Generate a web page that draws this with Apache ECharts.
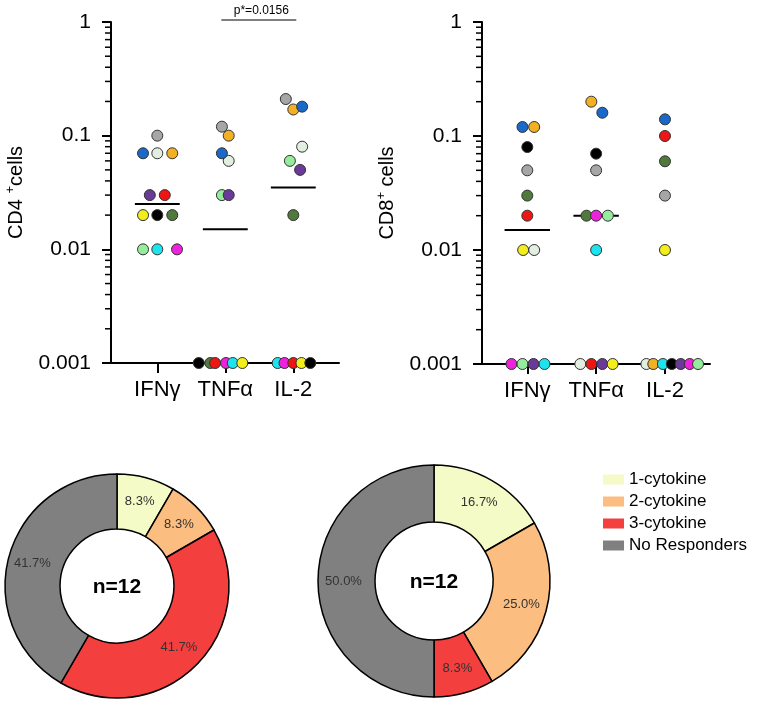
<!DOCTYPE html>
<html><head><meta charset="utf-8">
<script src="https://cdn.jsdelivr.net/npm/echarts@6/dist/echarts.min.js"></script>
<style>html,body{margin:0;padding:0;background:#fff}#c{width:768px;height:705px}</style>
</head><body><div id="c"></div>
<script>
// ---------- data ----------
const cytokines = ['IFNγ', 'TNFα', 'IL-2'];
const yTickLabels = ['0.001', '0.01', '0.1', '1'];
const subjects = ['gray','blue','honeydew','orange','purple','red','yellow','black','darkgreen','lightgreen','cyan','magenta'];
const subjectColors = ['#a6a6a6','#1a68c8','#e2eedf','#f4b023','#6a3a98','#ee1515','#f2ee1c','#000000','#4f7a3c','#94ec9c','#1ce4ee','#ee22dc'];
// values per subject (same order as subjects); 0 = non-responder (plotted at detection limit)
const cd4IFNg = [0.1, 0.07, 0.07, 0.07, 0.03, 0.03, 0.02, 0.02, 0.02, 0.01, 0.01, 0.01];
const cd4TNFa = [0.12, 0.07, 0.06, 0.1, 0.03, 0, 0, 0, 0, 0.03, 0, 0];
const cd4IL2  = [0.21, 0.18, 0.08, 0.17, 0.05, 0, 0, 0, 0.02, 0.06, 0, 0];
const cd8IFNg = [0.05, 0.12, 0.01, 0.12, 0, 0.02, 0.01, 0.08, 0.03, 0, 0, 0];
const cd8TNFa = [0.05, 0.16, 0, 0.2, 0, 0, 0, 0.07, 0.02, 0.02, 0.01, 0.02];
const cd8IL2  = [0.03, 0.14, 0, 0, 0, 0.1, 0.01, 0, 0.06, 0, 0, 0];
// horizontal scatter jitter (fraction of category spacing)
const cd4IFNgJit = [0, -0.21, 0, 0.22, -0.11, 0.11, -0.21, 0, 0.22, -0.21, 0, 0.29];
const cd4TNFaJit = [-0.05, -0.05, 0.05, 0.05, 0.05, -0.15, 0.25, -0.39, -0.22, -0.05, 0.11, 0.01];
const cd4IL2Jit  = [-0.11, 0.13, 0.13, 0, 0.10, 0, 0.12, 0.25, 0, -0.05, -0.23, -0.13];
const cd8IFNgJit = [0, -0.07, 0.10, 0.10, 0.09, 0, -0.06, 0, 0, -0.07, 0.25, -0.23];
const cd8TNFaJit = [0, 0.09, -0.23, -0.07, 0.09, -0.07, 0.24, 0, -0.14, 0.17, 0, 0];
const cd8IL2Jit  = [0, 0, -0.27, -0.17, 0.23, 0, 0, 0.10, 0, 0.48, -0.03, 0.36];
const pValueText = 'p*=0.0156';
// pie data (subject counts, n=12)
const pieCategories = ['1-cytokine', '2-cytokine', '3-cytokine', 'No Responders'];
const pieColors = ['#f4fbc6', '#fbbd80', '#f43f3f', '#808080'];
const cd4Pie = [1, 1, 5, 5];
const cd8Pie = [2, 3, 1, 6];
const nText = 'n=12';
const minorMultipliers = [2, 3, 4, 5, 6, 7, 8, 9];
const decades = [0.001, 0.01, 0.1];

// ---------- build ----------
const LOD = 0.001;
const FONT = '"Liberation Sans", Arial, sans-serif';
const panels = [
  { vals: [cd4IFNg, cd4TNFa, cd4IL2], jit: [cd4IFNgJit, cd4TNFaJit, cd4IL2Jit], xmin: 0.319, xmax: 3.672, name: ['CD4 ', '+', 'cells'] },
  { vals: [cd8IFNg, cd8TNFa, cd8IL2], jit: [cd8IFNgJit, cd8TNFaJit, cd8IL2Jit], xmin: 0.342, xmax: 3.654, name: ['CD8', '+', ' cells'] }
];
const grids = [
  { left: 111, top: 22, width: 228, height: 341 },
  { left: 482, top: 22, width: 228, height: 342 }
];
function median(arr) {
  const s = arr.slice().sort((a, b) => a - b);
  const n = s.length;
  return n % 2 ? s[(n - 1) / 2] : (s[n / 2 - 1] + s[n / 2]) / 2;
}
const minorTicks = [];
decades.forEach(d => minorMultipliers.forEach(m => minorTicks.push(+(d * m).toPrecision(3))));

const xAxes = [], yAxes = [], series = [];
panels.forEach((p, pi) => {
  xAxes.push({
    type: 'value', gridIndex: pi, min: p.xmin, max: p.xmax,
    splitLine: { show: false },
    axisLine: { onZero: false, lineStyle: { color: '#000', width: 2 } },
    axisTick: { customValues: [1, 2, 3], length: 10, lineStyle: { color: '#000', width: 2 } },
    axisLabel: { customValues: [1, 2, 3], formatter: v => cytokines[Math.round(v) - 1], fontSize: 22, margin: 16, color: '#000', fontFamily: FONT }
  });
  yAxes.push({
    type: 'log', logBase: 10, gridIndex: pi, min: 0.001, max: 1,
    splitLine: { show: false },
    axisLine: { show: true, onZero: false, lineStyle: { color: '#000', width: 2 } },
    axisTick: { show: true, length: 9, lineStyle: { color: '#000', width: 2 } },
    axisLabel: {
      fontSize: 21, margin: 20, color: '#000', fontFamily: FONT,
      formatter: v => yTickLabels[Math.round(Math.log10(v)) + 3]
    },
    name: '{a|' + p.name[0] + '}{s|' + p.name[1] + '}{a|' + p.name[2] + '}',
    nameLocation: 'middle', nameGap: 83, nameRotate: 90,
    nameTextStyle: {
      fontFamily: FONT, color: '#000',
      rich: {
        a: { fontSize: 20, fontFamily: FONT, color: '#000', lineHeight: 24 },
        s: { fontSize: 13, fontFamily: FONT, color: '#000', verticalAlign: 'top', lineHeight: 24, padding: [0, 0, 10, 0] }
      }
    }
  });
  // points
  const pts = [];
  p.vals.forEach((vals, k) => {
    vals.forEach((v, i) => {
      pts.push({
        value: [k + 1 + p.jit[k][i], v > 0 ? v : LOD],
        itemStyle: { color: subjectColors[i] }
      });
    });
  });
  pts.sort((a, b) => (a.value[1] - b.value[1]) || (a.value[0] - b.value[0]));
  // minor ticks
  series.push({
    type: 'custom', xAxisIndex: pi, yAxisIndex: pi, clip: false, silent: true, z: 1,
    data: minorTicks.map(v => [p.xmin, v]),
    renderItem: (params, api) => {
      const c = api.coord([api.value(0), api.value(1)]);
      return { type: 'line', shape: { x1: c[0] - 6, y1: c[1], x2: c[0], y2: c[1] }, style: { stroke: '#000', lineWidth: 1.5 } };
    }
  });
  // median lines
  const meds = [];
  p.vals.forEach((vals, k) => { const m = median(vals); if (m > LOD) meds.push([k + 1, m]); });
  series.push({
    type: 'custom', xAxisIndex: pi, yAxisIndex: pi, clip: false, silent: true, z: 2,
    data: meds,
    renderItem: (params, api) => {
      const a = api.coord([api.value(0) - 0.33, api.value(1)]);
      const b = api.coord([api.value(0) + 0.33, api.value(1)]);
      return { type: 'line', shape: { x1: a[0], y1: a[1], x2: b[0], y2: b[1] }, style: { stroke: '#000', lineWidth: 2 } };
    }
  });
  series.push({
    type: 'scatter', xAxisIndex: pi, yAxisIndex: pi, symbolSize: 11, z: 5,
    clip: false,
    itemStyle: { borderColor: '#333', borderWidth: 1, opacity: 1 },
    emphasis: { disabled: true },
    data: pts
  });
});

const pies = [
  { data: cd4Pie, center: [117, 586], radius: [57, 112] },
  { data: cd8Pie, center: [434, 581], radius: [59, 116] }
];
pies.forEach(pd => {
  const total = pd.data.reduce((a, b) => a + b, 0);
  series.push({
    type: 'pie', center: pd.center, radius: pd.radius, startAngle: 90, clockwise: true,
    avoidLabelOverlap: false, silent: true,
    itemStyle: { borderColor: '#000', borderWidth: 1.5 },
    label: {
      position: 'inside', fontSize: 13, color: '#333', fontFamily: FONT,
      formatter: q => (q.value / total * 100).toFixed(1) + '%'
    },
    labelLine: { show: false },
    emphasis: { disabled: true },
    data: pd.data.map((v, i) => ({ name: pieCategories[i], value: v, itemStyle: { color: pieColors[i] } }))
  });
});

const chart = echarts.init(document.getElementById('c'), null, { renderer: 'canvas' });
chart.setOption({
  animation: false,
  backgroundColor: '#fff',
  grid: grids,
  xAxis: xAxes,
  yAxis: yAxes,
  legend: {
    orient: 'vertical', left: 598, top: 466, icon: 'rect',
    itemWidth: 21, itemHeight: 10, itemGap: 5,
    itemStyle: { borderWidth: 0 },
    textStyle: { fontSize: 17, color: '#000', fontFamily: FONT },
    selectedMode: false,
    data: pieCategories
  },
  series: series
});

// annotations tied to the axes / pie centers
const t = chart.convertToPixel({ xAxisIndex: 0, yAxisIndex: 0 }, [2, 1]);
const u = chart.convertToPixel({ xAxisIndex: 0, yAxisIndex: 0 }, [3, 1]);
const graphics = [
  { type: 'line', shape: { x1: t[0] - 4, y1: t[1] - 2, x2: u[0] + 3, y2: u[1] - 2 }, style: { stroke: '#000', lineWidth: 1 } },
  { type: 'text', x: (t[0] + u[0]) / 2 + 2, y: t[1] - 5, style: { text: pValueText, fontSize: 12, fontFamily: FONT, fill: '#000', align: 'center', verticalAlign: 'bottom' } }
];
pies.forEach(pd => graphics.push({
  type: 'text', x: pd.center[0], y: pd.center[1] + 1,
  style: { text: nText, fontSize: 21, fontWeight: 'bold', fontFamily: FONT, fill: '#000', align: 'center', verticalAlign: 'middle' }
}));
chart.setOption({ graphic: graphics });
</script>
</body></html>
